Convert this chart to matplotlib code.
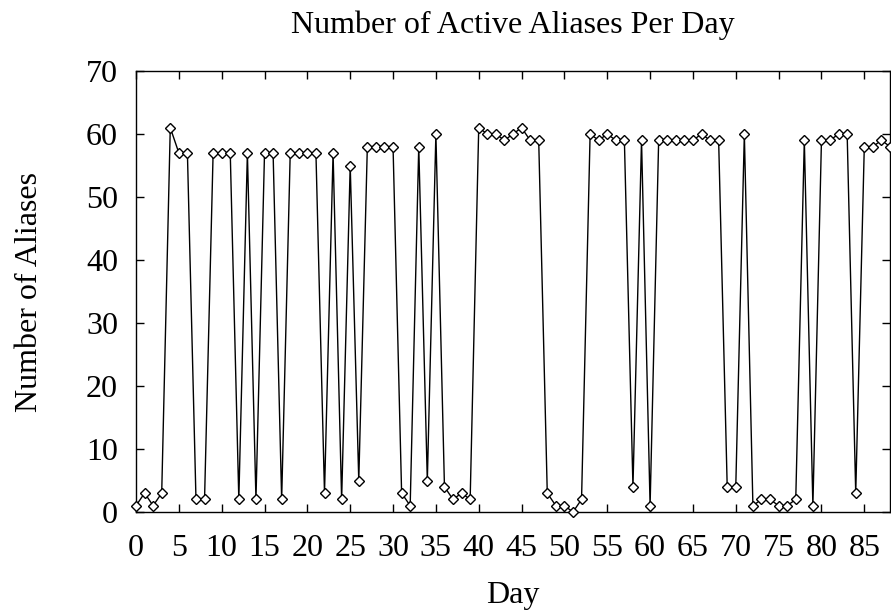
import matplotlib
matplotlib.use("Agg")
import matplotlib.pyplot as plt
import numpy as np

# ---------------------------------------------------------------------
# Data
# ---------------------------------------------------------------------
DAYS = np.arange(0, 89)
ALIASES = [
    1, 3, 1, 3, 61, 57, 57, 2, 2, 57,          # 0-9
    57, 57, 2, 57, 2, 57, 57, 2, 57, 57,       # 10-19
    57, 57, 3, 57, 2, 55, 5, 58, 58, 58,       # 20-29
    58, 3, 1, 58, 5, 60, 4, 2, 3, 2,           # 30-39
    61, 60, 60, 59, 60, 61, 59, 59, 3, 1,      # 40-49
    1, 0, 2, 60, 59, 60, 59, 59, 4, 59,        # 50-59
    1, 59, 59, 59, 59, 59, 60, 59, 59, 4,      # 60-69
    4, 60, 1, 2, 2, 1, 1, 2, 59, 1,            # 70-79
    59, 59, 60, 60, 3, 58, 58, 59, 58,         # 80-88
]
X_TICKS = list(range(0, 90, 5))
Y_TICKS = list(range(0, 80, 10))

FONT = ["Liberation Serif", "DejaVu Serif"]
FS = 23

plt.rcParams["font.family"] = FONT


def main():
    fig = plt.figure(figsize=(8.91, 6.13), dpi=100)
    ax = fig.add_axes([136 / 891, 101 / 613, 754 / 891, 441 / 613])

    ax.plot(DAYS, ALIASES, color="black", linewidth=1.0,
            marker="D", markersize=5, markerfacecolor="white",
            markeredgecolor="black", markeredgewidth=1.0, clip_on=False,
            zorder=3)

    ax.set_xlim(0, 88)
    ax.set_ylim(0, 70)
    ax.set_xticks(X_TICKS)
    ax.set_yticks(Y_TICKS)
    ax.tick_params(direction="in", length=6, width=1.0, labelsize=FS,
                   top=True, right=True)
    ax.tick_params(axis="x", pad=15.5)
    ax.tick_params(axis="y", pad=13)
    for s in ax.spines.values():
        s.set_linewidth(1.0)

    ax.set_title("Number of Active Aliases Per Day", fontsize=FS, pad=27)
    ax.set_xlabel("Day", fontsize=FS, labelpad=13.5)
    ax.set_ylabel("Number of Aliases", fontsize=FS, labelpad=30)

    fig.savefig("out.png", dpi=100)
    plt.close(fig)


if __name__ == "__main__":
    main()
